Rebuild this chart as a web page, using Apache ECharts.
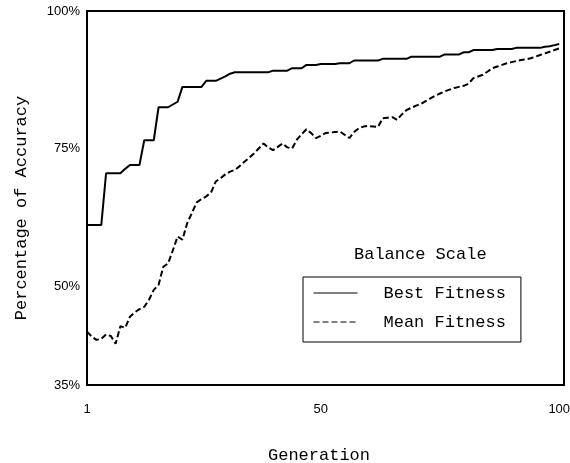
<!DOCTYPE html>
<html>
<head>
<meta charset="utf-8">
<script src="https://cdn.jsdelivr.net/npm/echarts@6/dist/echarts.min.js"></script>
<style>
html,body{margin:0;padding:0;background:#fff;}
#c{width:570px;height:463px;}
</style>
</head>
<body>
<div id="c"></div>
<script>
// ---- data ----
const chartTitle = 'Balance Scale';
const seriesNames = ['Best Fitness', 'Mean Fitness'];
const xTickValues = [1, 50, 100];
const yTickValues = [32, 50, 75, 100];
const yTickLabels = ['35%', '50%', '75%', '100%'];

// Best fitness, generations 1..100
const bestFitness = [
  61.1, 61.1, 61.1, 61.1, 70.5, 70.5, 70.5, 70.5, 71.3, 72.0,
  72.0, 72.0, 76.5, 76.5, 76.5, 82.5, 82.5, 82.5, 83.0, 83.5,
  86.2, 86.2, 86.2, 86.2, 86.2, 87.3, 87.3, 87.3, 87.7, 88.1,
  88.6, 88.85, 88.85, 88.85, 88.85, 88.85, 88.85, 88.85, 88.85, 89.15,
  89.15, 89.15, 89.15, 89.6, 89.6, 89.6, 90.2, 90.2, 90.2, 90.35,
  90.35, 90.35, 90.35, 90.5, 90.5, 90.5, 91.0, 91.0, 91.0, 91.0,
  91.0, 91.0, 91.3, 91.3, 91.3, 91.3, 91.3, 91.3, 91.7, 91.7,
  91.7, 91.7, 91.7, 91.7, 91.7, 92.1, 92.1, 92.1, 92.1, 92.5,
  92.5, 92.9, 92.9, 92.9, 92.9, 92.9, 93.1, 93.1, 93.1, 93.1,
  93.3, 93.3, 93.3, 93.3, 93.3, 93.3, 93.5, 93.6, 93.8, 94.0
];

// Mean fitness, generations 1..100
const meanFitness = [
  41.7, 40.8, 40.2, 40.4, 41.2, 40.9, 39.5, 42.7, 42.4, 44.4,
  45.2, 45.8, 46.2, 47.5, 49.3, 50.2, 53.5, 54.1, 56.5, 59.0,
  58.4, 61.4, 63.3, 65.2, 65.8, 66.3, 67.0, 69.0, 69.6, 70.3,
  70.8, 71.1, 71.8, 72.6, 73.3, 74.1, 75.0, 75.9, 75.2, 74.7,
  75.3, 75.9, 75.2, 75.0, 76.6, 77.6, 78.5, 77.8, 76.9, 77.3,
  77.8, 77.9, 78.0, 78.1, 77.5, 76.9, 78.0, 78.7, 79.0, 79.1,
  79.0, 78.9, 80.5, 80.6, 80.7, 80.2, 81.2, 82.0, 82.4, 82.8,
  83.1, 83.6, 84.1, 84.6, 85.0, 85.4, 85.7, 86.0, 86.2, 86.4,
  86.8, 87.8, 88.1, 88.4, 89.0, 89.6, 89.9, 90.2, 90.5, 90.7,
  90.9, 91.1, 91.2, 91.4, 91.7, 92.0, 92.3, 92.6, 92.9, 93.2
];

const generations = bestFitness.map((_, i) => i + 1);

const MONO = '"Liberation Mono", "DejaVu Sans Mono", monospace';
const SANS = '"Liberation Sans", Arial, sans-serif';

const chart = echarts.init(document.getElementById('c'), null, {renderer: 'canvas'});
chart.setOption({
  animation: false,
  backgroundColor: '#fff',
  title: {
    text: chartTitle,
    left: 354,
    top: 246,
    padding: 0,
    textStyle: {fontFamily: MONO, fontSize: 17, fontWeight: 'normal', color: '#000'}
  },
  legend: {
    orient: 'vertical',
    left: 303,
    top: 277,
    padding: [6, 15, 10, 10],
    itemGap: 9,
    itemWidth: 44,
    itemHeight: 14,
    borderColor: '#000',
    borderWidth: 1,
    borderRadius: 0,
    data: seriesNames,
    itemStyle: {opacity: 0},
    lineStyle: {width: 1},
    textStyle: {fontFamily: MONO, fontSize: 17, color: '#000', lineHeight: 20, padding: [0, 0, 0, 21]}
  },
  grid: {
    left: 87, right: 6, top: 11, bottom: 78,
    containLabel: false,
    outerBoundsMode: 'none',
    show: true, borderColor: '#000', borderWidth: 2, backgroundColor: 'transparent'
  },
  xAxis: {
    type: 'value',
    min: 1,
    max: 101,
    name: 'Generation',
    nameLocation: 'middle',
    nameGap: 62,
    nameTextStyle: {fontFamily: MONO, fontSize: 17, color: '#000', padding: [0, 13, 0, 0]},
    axisLine: {show: false},
    axisTick: {show: false},
    splitLine: {show: false},
    axisLabel: {
      customValues: xTickValues,
      margin: 18,
      fontFamily: SANS, fontSize: 13, color: '#000'
    }
  },
  yAxis: {
    type: 'value',
    min: yTickValues[0],
    max: yTickValues[yTickValues.length - 1],
    name: 'Percentage of Accuracy',
    nameLocation: 'middle',
    nameGap: 57,
    nameTextStyle: {fontFamily: MONO, fontSize: 17, color: '#000', padding: [0, 20, 0, 0]},
    axisLine: {show: false},
    axisTick: {show: false},
    splitLine: {show: false},
    axisLabel: {
      customValues: yTickValues,
      margin: 7,
      fontFamily: SANS, fontSize: 13, color: '#000',
      formatter: function (v) {
        const i = yTickValues.indexOf(v);
        return i >= 0 ? yTickLabels[i] : '';
      }
    }
  },
  series: [
    {
      name: seriesNames[0],
      type: 'line',
      symbol: 'none',
      data: generations.map((g, i) => [g, bestFitness[i]]),
      lineStyle: {color: '#000', width: 2, type: 'solid'},
      itemStyle: {color: '#000'}
    },
    {
      name: seriesNames[1],
      type: 'line',
      symbol: 'none',
      data: generations.map((g, i) => [g, meanFitness[i]]),
      lineStyle: {color: '#000', width: 2, type: [6, 3]},
      itemStyle: {color: '#000'}
    }
  ]
});
</script>
</body>
</html>
